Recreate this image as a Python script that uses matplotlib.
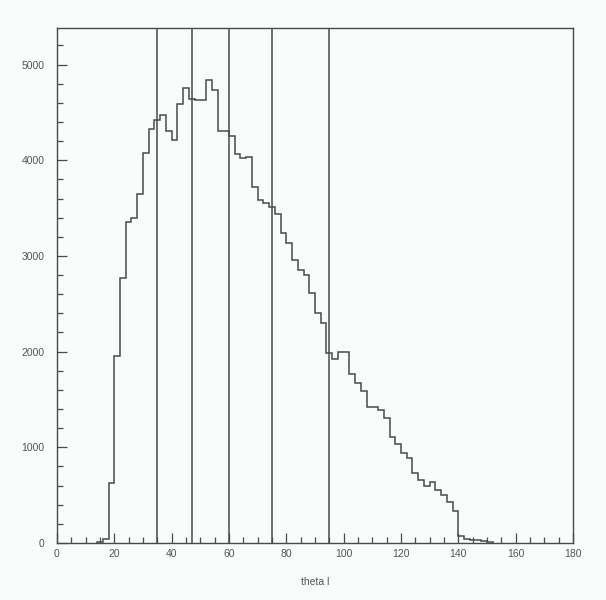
import numpy as np
import matplotlib
matplotlib.use('Agg')
import matplotlib.pyplot as plt
from matplotlib.ticker import MultipleLocator

# theta_l histogram, 2 degree bins from 14 to 152
bin_edges = np.arange(14, 153, 2)
counts = [
    10, 40, 630, 1950, 2770, 3350, 3400, 3650, 4080, 4330,
    4425, 4475, 4310, 4215, 4590, 4750, 4635, 4630, 4625, 4835,
    4730, 4310, 4310, 4250, 4070, 4020, 4035, 3720, 3580, 3550,
    3510, 3440, 3235, 3130, 2955, 2850, 2800, 2610, 2400, 2295,
    1990, 1920, 2000, 1995, 1770, 1670, 1590, 1425, 1420, 1395,
    1310, 1110, 1030, 940, 885, 730, 660, 600, 640, 555,
    500, 430, 330, 70, 45, 35, 35, 20, 12,
]
cut_lines = [35, 47, 60, 75, 95]

plt.rcParams['font.family'] = ['Liberation Sans', 'DejaVu Sans']

bg = '#f8fcfa'
ink = '#4a4a4a'

fig = plt.figure(figsize=(6.06, 6.0), dpi=100, facecolor=bg)
ax = fig.add_axes([0.094, 0.095, 0.8515, 0.858], facecolor=bg)

ax.stairs(counts, bin_edges, baseline=0, color=ink, linewidth=1.1)
for x in cut_lines:
    ax.axvline(x, color=ink, linewidth=1.1)

ax.set_xlim(0, 180)
ax.set_ylim(0, 5380)

ax.xaxis.set_major_locator(MultipleLocator(20))
ax.xaxis.set_minor_locator(MultipleLocator(5))
ax.yaxis.set_major_locator(MultipleLocator(1000))
ax.yaxis.set_minor_locator(MultipleLocator(200))

ax.tick_params(which='both', direction='in', color=ink, labelcolor='#555555',
               labelsize=7.5, width=0.9, top=False, right=False)
ax.tick_params(which='major', length=7)
ax.tick_params(which='minor', length=4)
ax.tick_params(axis='y', pad=9)
ax.tick_params(axis='x', pad=4)

for sp in ax.spines.values():
    sp.set_color(ink)
    sp.set_linewidth(1.0)

ax.set_xlabel('theta l', fontsize=7.5, color='#555555', labelpad=13)

fig.savefig('out.png', dpi=100, facecolor=bg)
